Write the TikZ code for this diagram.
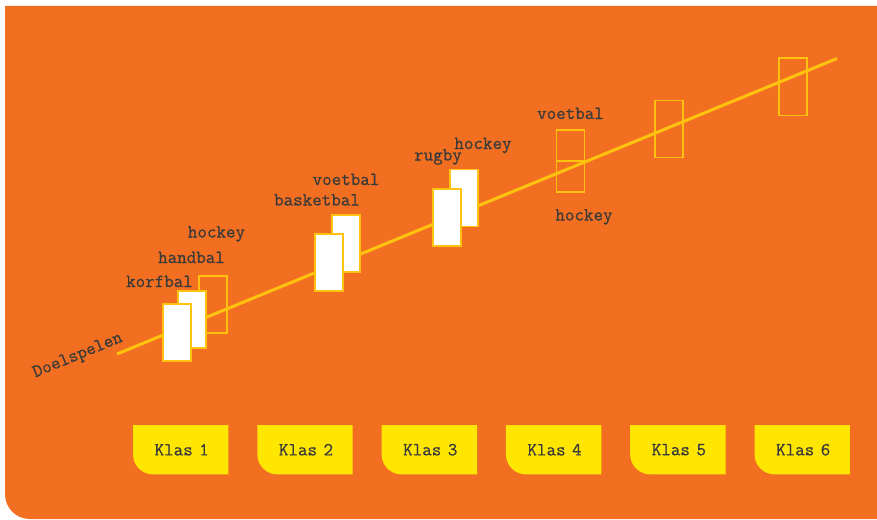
\documentclass[tikz,border=0pt]{standalone}
\usepackage{fontspec}
\usetikzlibrary{calc}
\newfontfamily\labfont{Latin Modern Mono}[FakeBold=0.7]
\definecolor{bgorange}{HTML}{F26F21}
\definecolor{linegold}{HTML}{FFC20E}
\definecolor{klasyellow}{HTML}{FFE600}
\definecolor{txt}{HTML}{3A3A3A}
\begin{document}
\begin{tikzpicture}[x=1pt,y=-1pt,
  lab/.style={font=\fontsize{18.5}{20}\labfont, text=txt, inner sep=0pt, anchor=base},
  fbox/.style={draw=linegold, line width=1.8pt, fill=white, minimum width=28pt, minimum height=57pt, inner sep=0pt, anchor=north west},
  obox/.style={fbox, fill=none},
  klas/.style={minimum width=95pt, minimum height=49pt, inner sep=0pt, anchor=north west},
  klastext/.style={font=\fontsize{18.5}{20}\labfont, text=txt, inner sep=0pt},
  axisline/.style={draw=linegold, line width=3pt}]
\useasboundingbox (0,0) rectangle (877,519);
\fill[white] (0,0) rectangle (877,519);
\fill[bgorange] (5,6) -- (877,6) -- (877,519) -- (30,519) .. controls (16,519) and (5,508) .. (5,494) -- cycle;

% axis line
\coordinate (ls) at (117,354);
\coordinate (le) at (837,58.5);
\draw[axisline] (ls) -- (le);
\node[font=\fontsize{18.5}{20}\labfont, text=txt, inner sep=0pt, rotate=22.5] (doel) at (78,356) {Doelspelen};

% Klas 1
\node[obox] (k1c) at (198,275) {};
\node[fbox] (k1b) at (177,290) {};
\node[fbox] (k1a) at (162,303) {};
\node[lab] (l1a) at (159.5,287) {korfbal};
\node[lab] (l1b) at (191.5,263) {handbal};
\node[lab] (l1c) at (216.5,237.5) {hockey};

% Klas 2
\node[fbox] (k2b) at (331,214) {};
\node[fbox] (k2a) at (314,233) {};
\node[lab] (l2b) at (346,185) {voetbal};
\node[lab] (l2a) at (317,205.5) {basketbal};

% Klas 3
\node[fbox] (k3b) at (449,168.5) {};
\node[fbox] (k3a) at (432,188) {};
\node[lab] (l3a) at (438,160.5) {rugby};
\node[lab] (l3b) at (483,149) {hockey};

% Klas 4
\node[obox, minimum height=31pt] (k4a) at (555.5,129) {};
\node[obox, minimum height=31pt] (k4b) at (555.5,160) {};
\node[lab] (l4a) at (570.5,119) {voetbal};
\node[lab] (l4b) at (584,220.5) {hockey};

% Klas 5, 6
\node[obox] (k5) at (654,99.5) {};
\node[obox] (k6) at (778,57.5) {};

% Klas boxes
\foreach \i/\x in {1/133,2/257.3,3/381.6,4/505.9,5/630.2,6/754.5}{
  \node[klas] (klas\i) at (\x,425) {};
  \fill[klasyellow] (klas\i.north west) -- (klas\i.north east) -- (klas\i.south east)
    -- ($(klas\i.south west)+(20,0)$) .. controls ($(klas\i.south west)+(9,0)$) and ($(klas\i.south west)+(0,-9)$) .. ($(klas\i.south west)+(0,-20)$) -- cycle;
  \node[klastext] (kt\i) at ($(klas\i.center)+(1,0)$) {Klas\hspace{-3pt} \i};
}
\end{tikzpicture}
\end{document}
